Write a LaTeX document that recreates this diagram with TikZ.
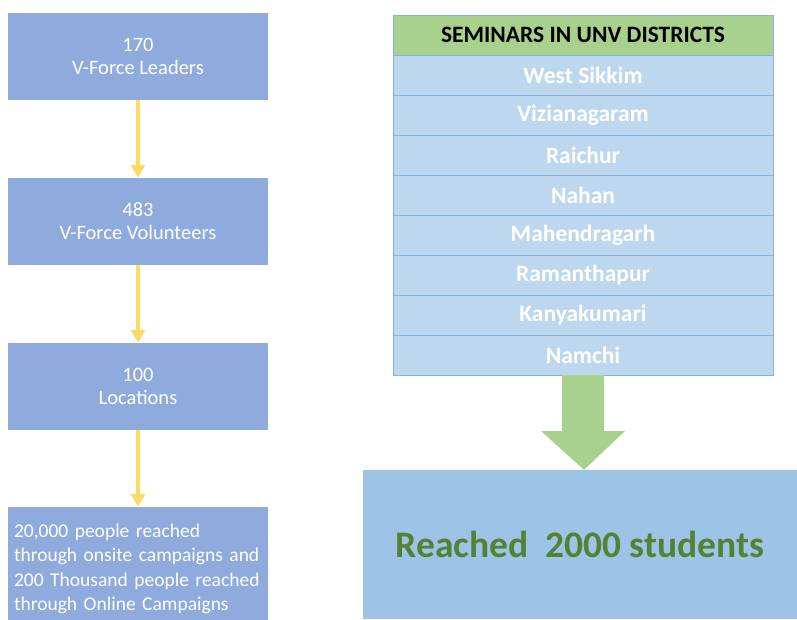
\documentclass[tikz,border=0pt]{standalone}
\usepackage{fontspec}
\setmainfont{Carlito}
\usetikzlibrary{arrows.meta,positioning}

\definecolor{stepblue}{HTML}{8FAADC}
\definecolor{rowblue}{HTML}{BDD7EE}
\definecolor{rowline}{HTML}{86B2E4}
\definecolor{headgreen}{HTML}{A9D18E}
\definecolor{arrowyellow}{HTML}{FFD966}
\definecolor{resultblue}{HTML}{9DC3E6}
\definecolor{textgreen}{HTML}{548235}

\tikzset{
  stepbox/.style={fill=stepblue, text=white, minimum width=260pt, minimum height=87pt,
    inner sep=0pt, align=center, font=\fontsize{20.5}{23}\selectfont},
  flow/.style={draw=arrowyellow, line width=4pt, -{Triangle[width=14pt,length=13pt]}},
  row/.style={fill=rowblue, draw=rowline, line width=0.8pt, minimum width=380pt,
    minimum height=40pt, inner sep=0pt, outer sep=0pt, text=white,
    font=\fontsize{23.5}{26}\selectfont\bfseries},
}

\begin{document}
\begin{tikzpicture}[x=1pt, y=-1pt]
  \useasboundingbox (0,0) rectangle (797,619);

  % left column
  \node[stepbox] (leaders) at (138,56.5) {170\\V-Force Leaders};
  \node[stepbox] (volunteers) at (138,221.5) {483\\V-Force Volunteers};
  \node[stepbox] (locations) at (138,386.5) {100\\Locations};
  \node[stepbox, minimum height=124pt, align=left, text width=248pt,
        font=\fontsize{19.5}{24.5}\selectfont] (reach) at (138,569)
        {20,000 people reached\\through onsite campaigns and\\200 Thousand people reached\\through Online Campaigns};

  \draw[flow] (leaders.south) -- (volunteers.north);
  \draw[flow] (volunteers.south) -- (locations.north);
  \draw[flow] (locations.south) -- (reach.north);

  % seminar table
  \node[row, fill=headgreen, text=black] (head) at (583,35) {SEMINARS IN UNV DISTRICTS};
  \node[row, below=0pt of head] (r1) {West Sikkim};
  \node[row, below=0pt of r1] (r2) {Vizianagaram};
  \node[row, below=0pt of r2] (r3) {Raichur};
  \node[row, below=0pt of r3] (r4) {Nahan};
  \node[row, below=0pt of r4] (r5) {Mahendragarh};
  \node[row, below=0pt of r5] (r6) {Ramanthapur};
  \node[row, below=0pt of r6] (r7) {Kanyakumari};
  \node[row, below=0pt of r7] (r8) {Namchi};

  % result
  \node[fill=resultblue, minimum width=434pt, minimum height=149pt, inner sep=0pt,
        text=textgreen, font=\fontsize{37.5}{42}\selectfont\bfseries] (result) at (580,544.5)
        {Reached\ \ 2000 students};

  % big arrow
  \fill[headgreen] ([xshift=-21pt]r8.south) -- ([xshift=21pt]r8.south)
    -- ([xshift=21pt,yshift=-56pt]r8.south) -- ([xshift=42pt,yshift=-56pt]r8.south)
    -- ([xshift=4pt]result.north) -- ([xshift=-42pt,yshift=-56pt]r8.south)
    -- ([xshift=-21pt,yshift=-56pt]r8.south) -- cycle;
\end{tikzpicture}
\end{document}
